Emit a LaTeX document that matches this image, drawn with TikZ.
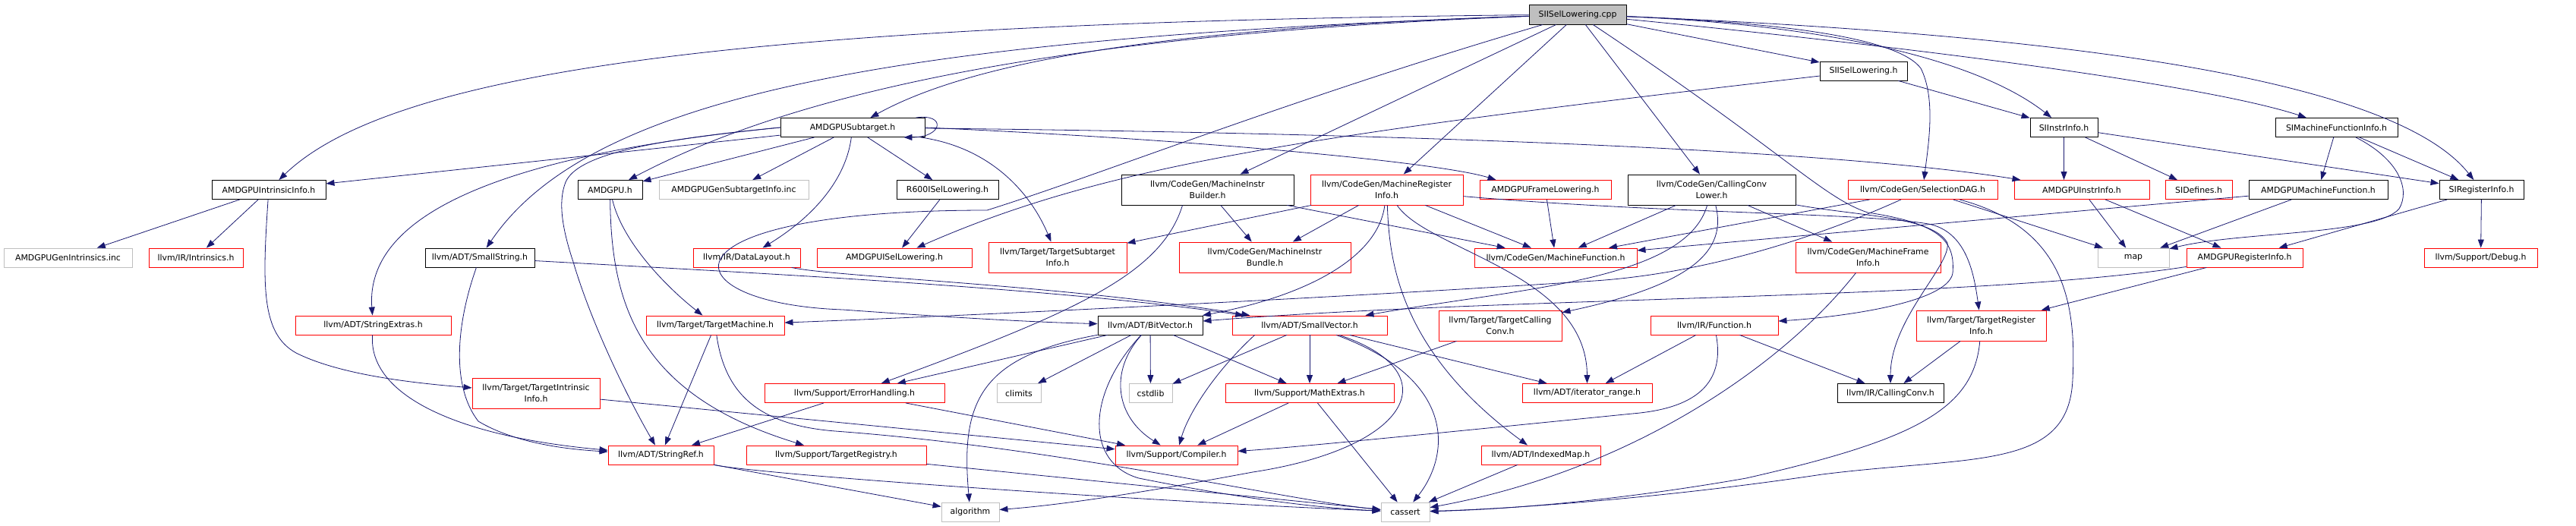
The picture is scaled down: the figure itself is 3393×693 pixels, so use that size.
\documentclass[tikz,border=0pt]{standalone}
\usepackage{fontspec}
\setmainfont{DejaVu Sans}
\usetikzlibrary{arrows.meta}
\definecolor{edgecol}{RGB}{25,25,112}
\definecolor{grayb}{RGB}{191,191,191}
\begin{document}
\begin{tikzpicture}[x=1pt,y=-1pt,
  nd/.style={rectangle, draw, inner sep=0pt, minimum height=25pt, align=center,
     font=\fontsize{10.9}{15}\selectfont, line width=0.9pt},
  bk/.style={nd, draw=black},
  rd/.style={nd, draw=red},
  gy/.style={nd, draw=grayb},
  two/.style={minimum height=40pt},
  dep/.style={draw=edgecol, line width=0.8pt, -{Triangle[length=11pt,width=8pt]}}]
\useasboundingbox (0,0) rectangle (3393,693);

% ---------- nodes ----------
\node[nd, draw=black, fill=grayb, minimum width=128pt, minimum height=26pt] (cpp) at (2078,19) {SIISelLowering.cpp};
\node[bk, minimum width=115pt] (sisl) at (2454.5,93.5) {SIISelLowering.h};
\node[bk, minimum width=190pt] (sub) at (1123,168) {AMDGPUSubtarget.h};
\node[bk, minimum width=89pt] (sii) at (2718.5,168) {SIInstrInfo.h};
\node[bk, minimum width=161pt] (smfi) at (3077.5,168) {SIMachineFunctionInfo.h};

\node[bk, minimum width=150pt] (aii) at (354,250) {AMDGPUIntrinsicInfo.h};
\node[bk, minimum width=85pt] (amdgpu) at (803.5,250) {AMDGPU.h};
\node[gy, minimum width=197pt] (gsi) at (966.5,250) {AMDGPUGenSubtargetInfo.inc};
\node[bk, minimum width=134pt] (r600) at (1248,250) {R600ISelLowering.h};
\node[bk, two, minimum width=227pt] (mib) at (1590.5,250) {llvm/CodeGen/MachineInstr\\Builder.h};
\node[rd, two, minimum width=201pt] (mri) at (1826.5,250) {llvm/CodeGen/MachineRegister\\Info.h};
\node[rd, minimum width=173pt] (afl) at (2035.5,250) {AMDGPUFrameLowering.h};
\node[bk, two, minimum width=221pt] (ccl) at (2254.5,250) {llvm/CodeGen/CallingConv\\Lower.h};
\node[rd, minimum width=197pt] (sdag) at (2532.5,250) {llvm/CodeGen/SelectionDAG.h};
\node[rd, minimum width=178pt] (aii2) at (2742,250) {AMDGPUInstrInfo.h};
\node[rd, minimum width=88pt] (sidef) at (2896,250) {SIDefines.h};
\node[bk, minimum width=183pt] (amf) at (3053.5,250) {AMDGPUMachineFunction.h};
\node[bk, minimum width=111pt] (sri) at (3268.5,250) {SIRegisterInfo.h};

\node[gy, minimum width=169pt] (agi) at (89.5,339.5) {AMDGPUGenIntrinsics.inc};
\node[rd, minimum width=124pt] (intr) at (258,339.5) {llvm/IR/Intrinsics.h};
\node[bk, minimum width=144pt] (sstr) at (632,339.5) {llvm/ADT/SmallString.h};
\node[rd, minimum width=141pt] (dl) at (983.5,339.5) {llvm/IR/DataLayout.h};
\node[rd, minimum width=204pt] (aisl) at (1178,339.5) {AMDGPUISelLowering.h};
\node[rd, two, minimum width=182pt] (tsi) at (1393,339) {llvm/Target/TargetSubtarget\\Info.h};
\node[rd, two, minimum width=226pt] (mibun) at (1666,339) {llvm/CodeGen/MachineInstr\\Bundle.h};
\node[rd, minimum width=214pt] (mf) at (2049,339.5) {llvm/CodeGen/MachineFunction.h};
\node[rd, two, minimum width=191pt] (mfi) at (2460.5,339) {llvm/CodeGen/MachineFrame\\Info.h};
\node[gy, minimum width=94pt] (map) at (2810,339.5) {map};
\node[rd, minimum width=153pt] (ari) at (2956.5,339.5) {AMDGPURegisterInfo.h};
\node[rd, minimum width=149pt] (dbg) at (3267.5,339.5) {llvm/Support/Debug.h};

\node[rd, minimum width=205pt] (sext) at (491.5,428.5) {llvm/ADT/StringExtras.h};
\node[rd, minimum width=182pt] (tm) at (942,428.5) {llvm/Target/TargetMachine.h};
\node[bk, minimum width=138pt] (bv) at (1515,428.5) {llvm/ADT/BitVector.h};
\node[rd, minimum width=204pt] (sv) at (1725,428.5) {llvm/ADT/SmallVector.h};
\node[rd, two, minimum width=162pt] (tcc) at (1976,429) {llvm/Target/TargetCalling\\Conv.h};
\node[rd, minimum width=168pt] (fn) at (2258,428.5) {llvm/IR/Function.h};
\node[rd, two, minimum width=171pt] (tri) at (2609.5,429) {llvm/Target/TargetRegister\\Info.h};

\node[rd, two, minimum width=168pt] (tii) at (706,518) {llvm/Target/TargetIntrinsic\\Info.h};
\node[rd, minimum width=237pt] (eh) at (1125.5,518) {llvm/Support/ErrorHandling.h};
\node[gy, minimum width=58pt] (climits) at (1342,518) {climits};
\node[gy, minimum width=57pt] (cstdlib) at (1515.5,518) {cstdlib};
\node[rd, minimum width=222pt] (mex) at (1725,518) {llvm/Support/MathExtras.h};
\node[rd, minimum width=171pt] (ir) at (2090.5,518) {llvm/ADT/iterator\_range.h};
\node[bk, minimum width=140pt] (cc) at (2490,518) {llvm/IR/CallingConv.h};

\node[rd, minimum width=139pt] (sref) at (870.5,599.5) {llvm/ADT/StringRef.h};
\node[rd, minimum width=237pt] (treg) at (1101.5,599.5) {llvm/Support/TargetRegistry.h};
\node[rd, minimum width=161pt] (comp) at (1549.5,599.5) {llvm/Support/Compiler.h};
\node[rd, minimum width=157pt] (imap) at (2029.5,599.5) {llvm/ADT/IndexedMap.h};

\node[gy, minimum width=76pt] (algo) at (1278,674.5) {algorithm};
\node[gy, minimum width=64pt] (cassert) at (1851,674.5) {cassert};

% ---------- edges from SIISelLowering.cpp ----------
\draw[dep] (cpp) .. controls (1000,30) and (520,90) .. (aii);
\draw[dep] (cpp) .. controls (1400,45) and (1050,120) .. (amdgpu);
\draw[dep] (cpp) .. controls (1600,35) and (1300,70) .. (sub);
\draw[dep] (cpp) .. controls (1200,50) and (780,120) .. (sstr);
\draw[dep] (cpp) .. controls (1700,130) and (1450,230) .. (1300,277) .. controls (850,277) and (880,400) .. (1110,408) .. controls (1250,418) and (1350,424) .. (bv);
\draw[dep] (cpp) -- (mib);
\draw[dep] (cpp) -- (mri);
\draw[dep] (cpp) -- (ccl);
\draw[dep] (cpp) .. controls (2350,200) and (2400,260) .. (2460,280) .. controls (2560,295) and (2575,320) .. (2572,360) .. controls (2565,400) and (2420,418) .. (fn);
\draw[dep] (cpp) -- (sisl);
\draw[dep] (cpp) .. controls (2350,30) and (2500,50) .. (2530,90) .. controls (2550,130) and (2540,190) .. (sdag);
\draw[dep] (cpp) .. controls (2450,35) and (2620,90) .. (sii);
\draw[dep] (cpp) .. controls (2500,60) and (2900,110) .. (smfi);
\draw[dep] (cpp) .. controls (2700,45) and (3150,100) .. (sri);

% ---------- SI headers ----------
\draw[dep] (sisl) .. controls (1700,180) and (1450,220) .. (aisl);
\draw[dep] (sisl) -- (sii);
\draw[dep] (sii) -- (sii |- aii2.north);
\draw[dep] (sii) -- (sidef);
\draw[dep] (sii) -- (sri);
\draw[dep] (smfi) -- (amf);
\draw[dep] (smfi) -- (sri);
\draw[dep] (smfi) .. controls (3160,210) and (3175,250) .. (3160,275) .. controls (3130,310) and (2950,305) .. (map);
\draw[dep] (amf) -- (mf);
\draw[dep] (amf) -- (map);
\draw[dep] (sri) -- (ari);
\draw[dep] (sri) -- (dbg);
\draw[dep] (aii2) -- (map);
\draw[dep] (aii2) -- (ari);
\draw[dep] (ari) -- (tri);
\draw[dep] (ari) .. controls (2600,395) and (2000,390) .. (bv);

% ---------- SelectionDAG ----------
\draw[dep] (sdag) -- (mf);
\draw[dep] (sdag) .. controls (2400,310) and (2250,360) .. (2100,370) .. controls (1800,390) and (1300,415) .. (tm);
\draw[dep] (sdag) -- (map);
\draw[dep] (sdag) .. controls (2720,300) and (2735,400) .. (2730,500) .. controls (2725,620) and (2600,600) .. (2400,625) .. controls (2200,655) and (2000,670) .. (cassert);

% ---------- MachineRegisterInfo ----------
\draw[dep] (mri) -- (tsi);
\draw[dep] (mri) -- (mibun);
\draw[dep] (mri) -- (mf);
\draw[dep] (mri) .. controls (1815,340) and (1720,390) .. (bv);
\draw[dep] (mri) .. controls (1830,340) and (1840,460) .. (imap);
\draw[dep] (mri) .. controls (1880,330) and (2090,360) .. (ir);
\draw[dep] (mri) .. controls (2200,282) and (2450,280) .. (2540,295) .. controls (2590,305) and (2600,360) .. (tri);

% ---------- MachineInstrBuilder, FrameLowering ----------
\draw[dep] ([xshift=-33pt]mib.south) .. controls (1530,360) and (1420,410) .. (eh);
\draw[dep] (mib) -- (mibun);
\draw[dep] (mib) -- (mf);
\draw[dep] (afl) -- (mf);

% ---------- CallingConvLower ----------
\draw[dep] (ccl) -- (mf);
\draw[dep] (ccl) -- (mfi);
\draw[dep] (ccl) .. controls (2275,330) and (2230,375) .. (tcc);
\draw[dep] (ccl) .. controls (2220,370) and (2000,380) .. (sv);
\draw[dep] (ccl) .. controls (2450,285) and (2545,285) .. (2565,320) .. controls (2570,350) and (2490,420) .. (cc);

% ---------- MachineFrameInfo, Function, TargetRegisterInfo ----------
\draw[dep] (mfi) .. controls (2350,480) and (2150,620) .. (cassert);
\draw[dep] (fn) -- (cc);
\draw[dep] (fn) -- (ir);
\draw[dep] (fn) .. controls (2275,520) and (2210,540) .. (2150,545) .. controls (1900,570) and (1700,590) .. (comp);
\draw[dep] (tri) -- (cc);
\draw[dep] (tri) .. controls (2600,540) and (2520,580) .. (2300,630) .. controls (2100,665) and (1950,672) .. (cassert);
\draw[dep] (tcc) -- (mex);
\draw[dep] (imap) -- (cassert);

% ---------- SmallVector ----------
\draw[dep] (sv) -- (mex);
\draw[dep] ([xshift=30pt]sv.south west) .. controls (1600,490) and (1565,545) .. (comp);
\draw[dep] (sv) -- (cstdlib);
\draw[dep] (sv) .. controls (1910,490) and (1860,590) .. (1650,622) .. controls (1500,650) and (1400,665) .. (algo);
\draw[dep] (sv) .. controls (1920,500) and (1910,600) .. (cassert);
\draw[dep] (sv) -- (ir);
\draw[dep] (mex) -- (comp);
\draw[dep] (mex) -- (cassert);

% ---------- BitVector ----------
\draw[dep] (bv) -- (eh);
\draw[dep] (bv) .. controls (1290,470) and (1265,530) .. (algo);
\draw[dep] (bv) -- (climits);
\draw[dep] (bv) -- (cstdlib);
\draw[dep] (bv) .. controls (1460,490) and (1470,550) .. (comp);
\draw[dep] (bv) .. controls (1430,520) and (1430,610) .. (1500,630) .. controls (1650,660) and (1750,670) .. (cassert);
\draw[dep] (bv) -- (mex);

% ---------- ErrorHandling, StringRef, others ----------
\draw[dep] (eh) -- (comp);
\draw[dep] (eh) -- (sref);
\draw[dep] (sref) -- (algo);
\draw[dep] (sref.south east) .. controls (1000,625) and (1500,660) .. (cassert);
\draw[dep] (treg) -- (cassert);
\draw[dep] (tm) -- (sref);
\draw[dep] (tm) .. controls (955,520) and (1000,560) .. (1100,568) .. controls (1400,590) and (1700,660) .. (cassert);
\draw[dep] (tii) -- (comp);
\draw[dep] (sext) .. controls (485,520) and (600,575) .. (sref);
\draw[dep] (sstr) .. controls (600,430) and (595,510) .. (630,555) .. controls (680,585) and (750,592) .. (sref);
\draw[dep] (sstr) .. controls (1000,360) and (1400,380) .. (sv);
\draw[dep] (dl) .. controls (1100,365) and (1400,375) .. (sv);

% ---------- AMDGPUSubtarget ----------
\draw[dep] (sub) -- (aii);
\draw[dep] (sub.west) .. controls (700,200) and (480,270) .. (sext);
\draw[dep] (sub) -- (amdgpu);
\draw[dep] (sub) -- (gsi);
\draw[dep] (sub) -- (r600);
\draw[dep] (sub) .. controls (1310,195) and (1360,260) .. (tsi);
\draw[dep] (sub) .. controls (1115,230) and (1080,280) .. (dl);
\draw[dep] (sub.east) .. controls (1600,185) and (1900,215) .. ([xshift=22pt]afl.north west);
\draw[dep] (sub) .. controls (1800,175) and (2400,195) .. (aii2);
\draw[dep] (sub.west) .. controls (850,185) and (760,205) .. (745,240) .. controls (735,265) and (740,300) .. (755,345) .. controls (780,430) and (830,530) .. (sref);
\draw[dep] ([xshift=-12pt]sub.north east) .. controls +(40,-6) and +(52,0) .. ([xshift=-28pt]sub.south east);

% ---------- AMDGPU.h, AMDGPUIntrinsicInfo.h, R600 ----------
\draw[dep] (amdgpu) .. controls (820,320) and (880,380) .. (tm);
\draw[dep] (amdgpu) .. controls (805,400) and (840,520) .. (treg);
\draw[dep] (aii) -- (agi);
\draw[dep] (aii) -- (intr);
\draw[dep] (aii) .. controls (345,380) and (345,440) .. (390,465) .. controls (450,495) and (550,505) .. (tii);
\draw[dep] (r600) -- (aisl);
\end{tikzpicture}
\end{document}
